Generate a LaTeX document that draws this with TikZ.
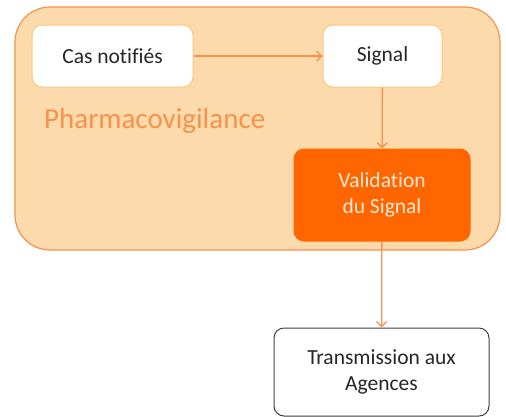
\documentclass[tikz,border=0pt]{standalone}
\usepackage{fontspec}
\setmainfont{Carlito}[Ligatures=NoCommon]
\usetikzlibrary{positioning,arrows.meta}
\definecolor{pvfill}{HTML}{FCDAAB}
\definecolor{pvline}{HTML}{F7924A}
\definecolor{pvdark}{HTML}{FF6600}
\definecolor{pvpale}{HTML}{F9C77E}
\definecolor{pvtext}{HTML}{FFE9D6}

\begin{document}
\begin{tikzpicture}[
  x=1pt,y=-1pt,
  font=\fontsize{21.5}{25.5}\selectfont,
  box/.style={draw,rounded corners=10pt,align=center,inner sep=0pt,line width=1pt},
  wbox/.style={box,draw=pvpale,fill=white,text=black!85},
  >={Straight Barb[length=5pt,width=10pt]},
  flow/.style={->,draw=pvline,line width=1.3pt}
]
\useasboundingbox (0,0) rectangle (506,416);
% zone pharmacovigilance
\node[draw=pvline,fill=pvfill,rounded corners=35pt,line width=1.2pt,
  minimum width=485pt,minimum height=243pt,inner sep=0pt] (zone) at (257.5,128.5) {};
\node[anchor=west,inner sep=0pt,text=pvline,font=\fontsize{29}{34}\selectfont] (titre) at (44,121) {Pharmacovigilance};
% etapes
\node[wbox,minimum width=161pt,minimum height=62pt] (cas) at (112.5,56) {Cas notifiés};
\node[wbox,minimum width=119pt,minimum height=62pt] (sig) at (382.5,56) {Signal};
\node[box,draw=pvdark,fill=pvdark,text=pvtext,minimum width=176pt,minimum height=92pt] (val) at (382,195) {Validation\\du Signal};
\node[box,draw=black!75,fill=white,text=black!85,minimum width=215pt,minimum height=88pt] (trans) at (381.5,372) {Transmission aux\\Agences};
\draw[flow] (cas)--(sig);
\draw[flow] (sig)--(val);
\draw[flow] (val)--(trans);
\end{tikzpicture}
\end{document}
